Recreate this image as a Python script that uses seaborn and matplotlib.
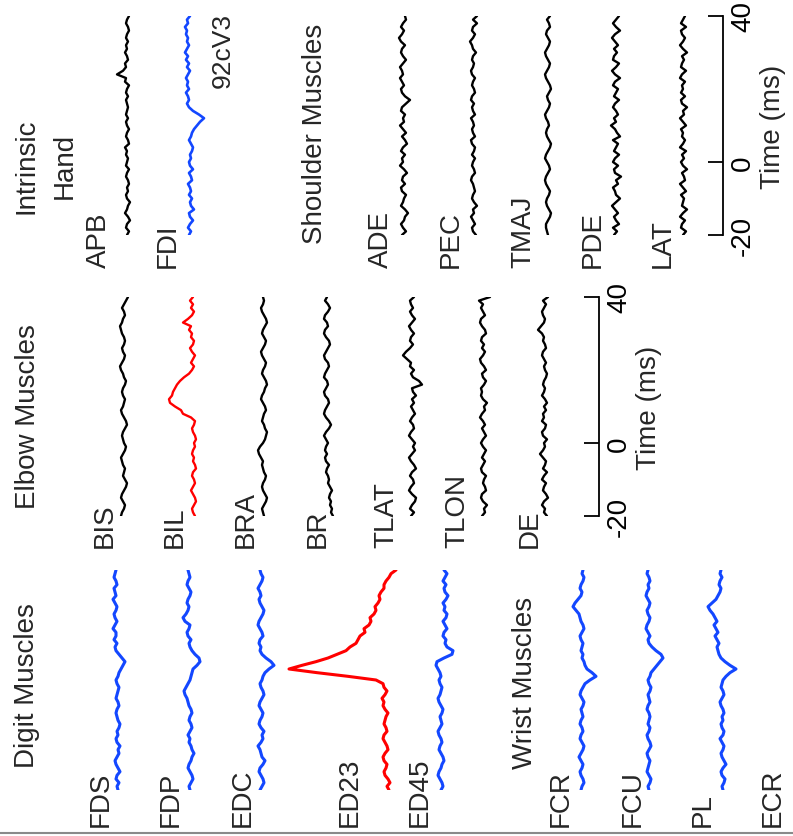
import matplotlib
matplotlib.use("Agg")
import matplotlib.pyplot as plt
import seaborn as sns
from matplotlib.lines import Line2D

# time axis of every trace, ms (1 ms bins); rows below are t=-20..-1, 0..19, 20..40
TIME = list(range(-20, 41))

# --- digit + wrist muscles (first column) ---
FDS = [0,1,-1,2,1,-2,0,2,3,1,-1,0,-2,1,2,0,1,-1,-2,0,
       1,2,1,-1,0,2,1,0,-1,1,2,0,-1,-3,-5,-7,-4,-1,2,3,
       1,4,2,2,5,3,1,3,4,2,1,3,5,2,3,4,1,2,4,3,2]
FDP = [1,2,0,-2,-1,1,3,2,0,-1,-3,-1,0,2,1,3,1,-1,0,2,
       1,-1,0,2,3,4,6,7,5,3,1,0,-1,-2,-6,-9,-8,-4,-1,1,
       2,0,3,4,2,1,6,8,5,3,2,4,3,1,0,2,4,3,1,2,3]
EDC = [2,0,-2,-1,1,3,2,-1,-3,0,1,2,4,1,-1,0,-2,1,3,2,
       0,-1,1,3,2,0,-2,-1,1,2,0,-1,-3,-7,-12,-9,-4,0,2,1,
       3,2,-1,0,2,4,3,1,-1,-2,0,2,3,1,2,4,2,0,-1,1,2]
ED23 = [-3,-1,-4,-2,1,2,0,-1,2,3,1,-2,-1,1,3,2,-1,0,2,1,
        0,-2,1,3,2,4,1,-1,2,3,10,38,69,97,84,70,58,49,40,36,
        30,28,26,21,22,17,15,16,12,10,11,8,6,7,5,2,2,0,-3,-5,-10]
ED45 = [0,-2,-1,1,3,2,0,-1,-3,-2,0,2,1,-1,0,2,3,1,-1,0,
        1,-1,-2,0,2,3,1,0,-1,1,2,0,1,3,5,4,-3,-11,-12,-6,
        -4,-5,-2,-3,-6,-4,-2,-5,-6,-3,-4,-2,-5,-7,-4,-3,-5,-2,-4,-6,-3]
FCR = [1,0,-2,-1,1,2,0,-1,1,3,1,-1,-2,0,2,1,-1,0,2,1,
       -1,0,1,-1,-2,0,2,1,-1,-3,-8,-14,-10,-5,-3,-2,0,-1,1,0,
       -1,1,2,0,-2,-1,1,2,3,6,9,7,4,1,0,2,1,-1,-2,0,-1]
FCU = [0,1,-1,-2,0,2,1,0,-1,1,2,0,-2,-1,1,2,0,-1,1,0,
       -1,0,2,1,-1,0,1,-1,-2,0,1,-1,-2,-5,-8,-11,-14,-12,-7,-3,
       0,1,-1,1,3,2,0,-1,1,2,0,-1,1,3,2,0,1,-1,0,2,1]
PL = [-2,-1,-3,-4,-1,0,-2,-5,-3,-1,0,-2,-3,-1,1,-2,-3,-1,0,-2,
      -1,-3,-2,0,1,-1,-3,-2,0,-1,-2,-5,-9,-15,-9,-4,0,2,3,4,
      2,4,6,3,5,7,4,6,8,11,13,9,5,3,1,0,2,1,-1,1,0]

# --- elbow muscles ---
BIS = [3,2,0,-1,1,3,2,0,-2,-3,-1,1,0,-1,1,2,3,1,-1,-2,
       0,1,2,1,-1,-3,-2,0,2,3,1,0,-1,1,2,1,-1,-2,0,1,
       3,4,2,0,-1,1,2,0,-1,0,2,3,4,2,1,-1,0,2,0,-2,-4]
BIL = [-1,1,2,0,-2,-1,1,3,1,-1,0,2,1,-2,-1,1,0,2,1,-1,
       0,-2,-1,1,2,0,-1,3,11,13,19,24,25,22,21,19,17,14,10,5,
       2,0,3,1,-1,2,4,1,0,3,2,5,3,11,6,2,0,3,1,4,1]
BRA = [0,1,2,0,-2,-3,-1,1,2,1,-1,-2,0,1,2,1,3,5,6,4,
       1,-1,-2,-3,-1,0,2,1,0,-2,-1,1,3,2,0,-1,-3,-2,0,2,
       1,-1,-2,0,2,3,1,-1,-2,0,2,1,-1,-3,-2,0,2,3,1,0,1]
BR = [-6,-4,-5,-3,-4,-2,-3,-5,-3,-1,-2,-1,1,0,-2,1,2,0,2,1,
      -1,1,3,1,-2,-4,-2,1,3,2,0,-2,-1,2,3,1,-1,0,3,2,
      0,-2,-1,2,3,1,-1,-3,-2,1,3,2,-1,0,3,2,-1,-3,-1,2,0]
TLAT = [2,-1,3,1,-2,-3,1,4,2,-1,0,3,1,-3,-1,2,4,1,-2,0,
        -2,1,4,2,-1,0,3,1,-2,0,2,-1,1,-3,0,1,-9,-6,0,2,
        -1,3,2,6,10,7,3,0,3,2,-1,2,4,1,-2,1,3,0,2,3,-1]
TLON = [2,-1,0,-3,1,3,2,-2,-1,1,0,-2,2,3,1,-1,2,0,-2,1,
        3,1,-2,0,2,-1,1,4,2,-1,0,-3,1,3,2,3,0,-2,1,2,
        -2,0,3,4,1,-1,2,0,3,2,-2,-1,2,4,3,-1,1,3,1,5,-6]
DE = [-2,1,0,3,1,-3,-1,2,1,-1,3,1,-2,2,0,-1,2,5,2,0,
      1,-2,2,3,0,-1,3,1,2,-1,1,-2,0,3,1,0,2,1,-1,-2,
      0,1,-1,1,3,2,-1,0,2,1,3,7,4,1,0,2,3,1,-1,2,-3]

# --- intrinsic hand + shoulder muscles ---
APB = [1,-1,2,1,-2,0,3,1,0,-2,1,2,0,1,-1,0,2,1,-1,2,
       1,0,2,1,3,-1,0,2,1,-1,1,2,0,2,1,0,1,2,0,2,
       1,-1,3,2,11,5,2,3,0,1,3,1,2,0,2,1,-1,0,2,1,-1]
FDI = [2,0,3,1,-2,1,2,-3,0,1,-1,2,0,1,3,-1,0,2,-2,1,
       2,0,1,-1,-2,0,2,0,-1,-3,-6,-9,-13,-8,-2,2,4,2,3,5,
       2,4,3,5,3,1,4,2,5,3,6,4,2,4,3,5,4,6,3,4,1]
ADE = [2,-2,1,3,0,-1,-4,-1,3,1,0,-2,2,3,-1,2,1,-3,0,4,
       1,2,-1,3,1,-3,-1,2,-2,1,4,0,1,-1,3,2,-2,-6,-1,2,
       3,0,2,4,1,2,4,1,-2,1,3,2,-1,3,5,2,0,3,1,-2,-1]
PEC = [-2,1,2,-1,1,3,0,1,-3,0,2,1,-1,0,1,3,2,-1,0,2,
       1,-1,2,0,-1,2,3,-1,1,2,0,1,3,-1,1,2,0,3,2,-1,
       0,2,1,-1,2,3,1,0,2,1,-2,1,2,4,1,-1,2,1,-3,1,-3]
TMAJ = [0,1,2,2,0,-2,-3,-1,1,2,1,-1,-2,0,2,3,2,0,-2,-1,
        1,3,2,0,-2,-3,-1,1,2,1,-1,0,2,3,1,-1,-2,0,1,-1,
        -3,-2,0,2,3,1,-1,-2,0,2,3,1,-1,-2,0,2,1,-2,-1,1,-2]
PDE = [3,0,4,-2,1,3,-1,2,5,1,-3,1,2,4,-1,1,-4,2,3,-1,
       4,2,-2,3,1,-1,4,-3,0,2,6,1,3,-1,1,4,2,-2,3,1,
       -1,4,2,-3,2,5,1,-2,4,3,0,3,-1,2,5,2,-3,1,4,1,-2]
LAT = [1,-2,3,2,-1,4,1,-3,2,1,0,3,-2,1,4,-1,0,2,-3,1,
       3,0,2,-2,4,1,-1,2,1,3,-2,1,4,0,1,-3,2,3,-1,3,
       1,2,-1,4,2,-2,3,2,0,2,-3,1,4,1,-1,2,3,-2,3,1,-1]

TIME_TICKS = [-20, 0, 40]
TIME_TICK_LABELS = ["-20", "0", "40"]

BLUE = "#1347ff"
RED = "#ff0000"
BLACK = "#000000"

W, H = 793, 837  # output size in px

def rect(x0, x1, y_top, y_bot):
    # pixel box -> figure fraction
    return [x0 / W, 1 - y_bot / H, (x1 - x0) / W, (y_bot - y_top) / H]

sns.set_theme(style="white")
plt.rcParams["font.family"] = ["Liberation Sans", "DejaVu Sans"]
FS = 20

fig = plt.figure(figsize=(W / 100, H / 100), dpi=100)

# column -> (pixel y of t=40, pixel y of t=-20)
COLS = {1: (571, 791), 2: (298, 517), 3: (17, 236)}

# (name, values, column, baseline x px, colour, line width)
traces = [
    ("FDS", FDS, 1, 118, BLUE, 2.2), ("FDP", FDP, 1, 191, BLUE, 2.2),
    ("EDC", EDC, 1, 262, BLUE, 2.2), ("ED23", ED23, 1, 386, RED, 2.2),
    ("ED45", ED45, 1, 441, BLUE, 2.2), ("FCR", FCR, 1, 582, BLUE, 2.2),
    ("FCU", FCU, 1, 649, BLUE, 2.2), ("PL", PL, 1, 721, BLUE, 2.2),
    ("BIS", BIS, 2, 124, BLACK, 1.7), ("BIL", BIL, 2, 194, RED, 1.7),
    ("BRA", BRA, 2, 264, BLACK, 1.7), ("BR", BR, 2, 327, BLACK, 1.7),
    ("TLAT", TLAT, 2, 413, BLACK, 1.7), ("TLON", TLON, 2, 484, BLACK, 1.7),
    ("DE", DE, 2, 545, BLACK, 1.7),
    ("APB", APB, 3, 128, BLACK, 1.7), ("FDI", FDI, 3, 191, BLUE, 1.9),
    ("ADE", ADE, 3, 404, BLACK, 1.7), ("PEC", PEC, 3, 474, BLACK, 1.7),
    ("TMAJ", TMAJ, 3, 548, BLACK, 1.7), ("PDE", PDE, 3, 617, BLACK, 1.7),
    ("LAT", LAT, 3, 684, BLACK, 1.7),
]

for name, vals, col, base, color, lw in traces:
    y_top, y_bot = COLS[col]
    ax = fig.add_axes(rect(base - 110, base + 20, y_top, y_bot))
    ax.patch.set_alpha(0)
    sns.lineplot(x=vals, y=TIME, orient="y", sort=False, estimator=None,
                 color=color, linewidth=lw, ax=ax, legend=False)
    # amplitude grows to the left (figure is turned on its side)
    ax.set_xlim(110, -20)
    ax.set_ylim(-20, 40)
    ax.axis("off")

# muscle labels: (name, cap centre x px, bottom y px)
labels = [
    ("FDS", 98, 827), ("FDP", 168, 827), ("EDC", 240, 827), ("ED23", 347, 827),
    ("ED45", 417, 827), ("FCR", 558, 827), ("FCU", 630, 827), ("PL", 700, 827),
    ("ECR", 770, 827),
    ("BIS", 102, 548), ("BIL", 172, 548), ("BRA", 243, 548), ("BR", 315, 548),
    ("TLAT", 383, 548), ("TLON", 454, 548), ("DE", 527, 548),
    ("APB", 96, 268), ("FDI", 165, 268), ("ADE", 378, 268), ("PEC", 448, 268),
    ("TMAJ", 520, 268), ("PDE", 590, 268), ("LAT", 660, 268),
]
for txt, xc, yb in labels:
    fig.text((xc + 10) / W, 1 - yb / H, txt, rotation=90, rotation_mode="anchor",
             ha="left", va="baseline", fontsize=FS)

# group titles: (text, baseline x px, centre y px)
titles = [
    ("Digit Muscles", 34, 686), ("Wrist Muscles", 532, 683),
    ("Elbow Muscles", 35, 417), ("Shoulder Muscles", 322, 134),
    ("Intrinsic", 33, 166), ("Hand", 72, 166),
]
for txt, xb, yc in titles:
    fig.text(xb / W, 1 - yc / H, txt, rotation=90, rotation_mode="anchor",
             ha="center", va="baseline", fontsize=FS)

fig.text(230 / W, 1 - 50 / H, "92cV3", rotation=90, rotation_mode="anchor",
         ha="center", va="baseline", fontsize=19)

# time scale bars for columns 2 and 3
for col, xline in [(2, 599), (3, 723)]:
    y_top, y_bot = COLS[col]
    tax = fig.add_axes(rect(xline - 20, xline, y_top, y_bot))
    tax.patch.set_alpha(0)
    tax.set_ylim(-20, 40)
    tax.set_xticks([])
    for side in ["top", "bottom", "left"]:
        tax.spines[side].set_visible(False)
    tax.spines["right"].set_color("black")
    tax.spines["right"].set_linewidth(1.3)
    tax.yaxis.tick_right()
    tax.yaxis.set_label_position("right")
    tax.set_yticks(TIME_TICKS)
    tax.set_yticklabels(TIME_TICK_LABELS, rotation=90, va="center", fontsize=FS)
    tax.tick_params(axis="y", direction="in", length=11, width=1.3, pad=5,
                    colors="black")
    tax.set_ylabel("Time (ms)", fontsize=FS, labelpad=3)

# thin grey frame line along the bottom
fig.add_artist(Line2D([0, 1], [1 - 834 / H] * 2, transform=fig.transFigure,
                      color="#8a8a8a", linewidth=1.5))

fig.savefig("out.png", dpi=100)
